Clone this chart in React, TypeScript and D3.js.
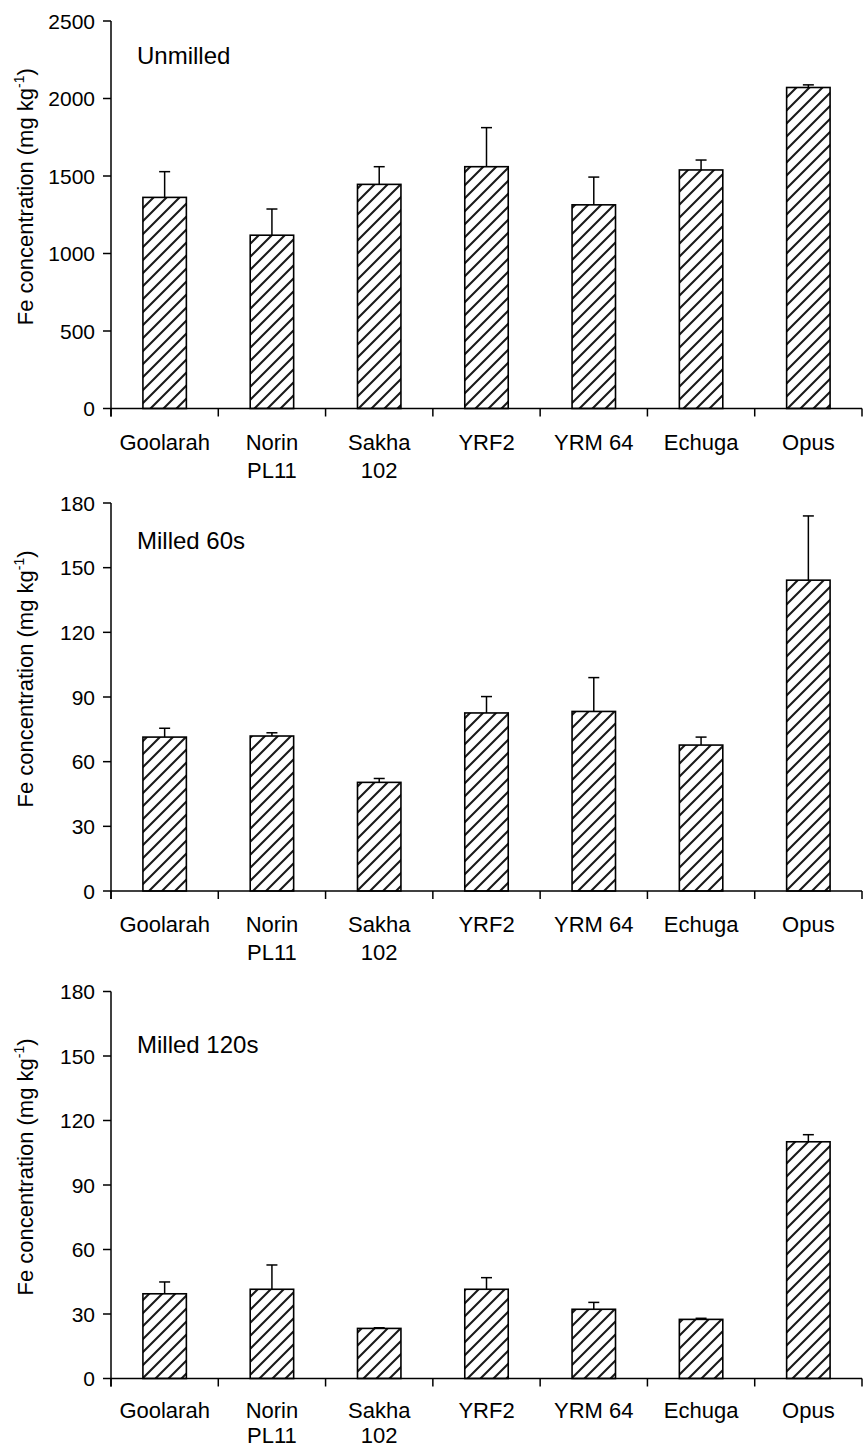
import React from "react";
import * as d3 from "d3";

const categories: string[][] = [
  ["Goolarah"],
  ["Norin", "PL11"],
  ["Sakha", "102"],
  ["YRF2"],
  ["YRM 64"],
  ["Echuga"],
  ["Opus"],
];

const unmilledMean = [1362, 1118, 1446, 1560, 1314, 1539, 2071];
const unmilledUpper = [1528, 1287, 1560, 1812, 1493, 1603, 2088];
const unmilledTicks = [0, 500, 1000, 1500, 2000, 2500];

const milled60Mean = [71.4, 71.9, 50.4, 82.6, 83.3, 67.7, 144.2];
const milled60Upper = [75.5, 73.4, 52.2, 90.2, 99.0, 71.4, 174];
const milled60Ticks = [0, 30, 60, 90, 120, 150, 180];

const milled120Mean = [39.4, 41.5, 23.3, 41.5, 32.2, 27.5, 110.1];
const milled120Upper = [44.9, 52.8, 23.6, 46.9, 35.4, 28.0, 113.4];
const milled120Ticks = [0, 30, 60, 90, 120, 150, 180];

const panelTitles = ["Unmilled", "Milled 60s", "Milled 120s"];

const FONT = "'Liberation Sans', Arial, Helvetica, sans-serif";

type PanelProps = {
  id: number;
  title: string;
  mean: number[];
  upper: number[];
  ticks: number[];
  yTop: number;
  yBottom: number;
  titleY: number;
  labelOffset: number;
  lineGap: number;
};

const X0 = 111;
const X1 = 862;

function Panel({ id, title, mean, upper, ticks, yTop, yBottom, titleY, labelOffset, lineGap }: PanelProps) {
  const maxV = ticks[ticks.length - 1];
  const y = d3.scaleLinear().domain([0, maxV]).range([yBottom, yTop]);
  const x = d3
    .scaleBand<number>()
    .domain(d3.range(categories.length))
    .range([X0, X1])
    .paddingInner(0.595)
    .paddingOuter(0.2975);
  const step = x.step();
  const bw = x.bandwidth();
  const boundaries = d3.range(categories.length + 1).map((i) => X0 + i * step);
  const cap = 5.5;
  const midY = (yTop + yBottom) / 2 - 18;
  const patId = `hatch${id}`;
  return (
    <g>
      <defs>
        <pattern id={patId} patternUnits="userSpaceOnUse" width={13} height={13}>
          <path
            d="M-2,15 L15,-2 M-2,2 L2,-2 M11,15 L15,11"
            stroke="#1a1a1a"
            strokeWidth={2.1}
            fill="none"
          />
        </pattern>
      </defs>
      <text
        transform={`translate(33,${midY}) rotate(-90)`}
        textAnchor="middle"
        fontFamily={FONT}
        fontSize={22}
        fill="#000"
      >
        Fe concentration (mg kg
        <tspan fontSize={14} dy={-9}>
          -1
        </tspan>
        <tspan dy={9}>)</tspan>
      </text>
      {mean.map((v, i) => {
        const bx = x(i)!;
        const cx = bx + bw / 2;
        return (
          <g key={i}>
            <line x1={cx} x2={cx} y1={y(v)} y2={y(upper[i])} stroke="#000" strokeWidth={1.5} />
            <line
              x1={cx - cap}
              x2={cx + cap}
              y1={y(upper[i])}
              y2={y(upper[i])}
              stroke="#000"
              strokeWidth={1.5}
            />
            <rect
              x={bx}
              y={y(v)}
              width={bw}
              height={y(0) - y(v)}
              fill={`url(#${patId})`}
              stroke="#000"
              strokeWidth={1.6}
            />
          </g>
        );
      })}
      <line x1={X0} x2={X0} y1={yTop} y2={yBottom + 8} stroke="#000" strokeWidth={1.5} />
      {ticks.map((t) => (
        <g key={t}>
          <line x1={X0 - 8} x2={X0} y1={y(t)} y2={y(t)} stroke="#000" strokeWidth={1.5} />
          <text
            x={95}
            y={y(t)}
            dy="0.36em"
            textAnchor="end"
            fontFamily={FONT}
            fontSize={21}
            fill="#000"
          >
            {t}
          </text>
        </g>
      ))}
      <line x1={X0} x2={X1} y1={yBottom} y2={yBottom} stroke="#000" strokeWidth={1.5} />
      {boundaries.map((bx, i) => (
        <line key={i} x1={bx} x2={bx} y1={yBottom} y2={yBottom + 8} stroke="#000" strokeWidth={1.5} />
      ))}
      {categories.map((lines, i) => (
        <text
          key={i}
          x={x(i)! + bw / 2}
          y={yBottom + labelOffset}
          textAnchor="middle"
          fontFamily={FONT}
          fontSize={22}
          fill="#000"
        >
          {lines.map((l, j) => (
            <tspan key={j} x={x(i)! + bw / 2} dy={j === 0 ? 0 : lineGap}>
              {l}
            </tspan>
          ))}
        </text>
      ))}
      <text x={137} y={titleY} fontFamily={FONT} fontSize={24} fill="#000">
        {title}
      </text>
    </g>
  );
}

export default function App() {
  return (
    <>
      <style>{`body{margin:0;}`}</style>
      <svg width={865} height={1447} style={{ display: "block", background: "#fff" }}>
        <rect width={865} height={1447} fill="#fff" />
        <Panel
          id={1}
          title={panelTitles[0]}
          mean={unmilledMean}
          upper={unmilledUpper}
          ticks={unmilledTicks}
          yTop={21}
          yBottom={408.5}
          titleY={64}
          labelOffset={41}
          lineGap={28}
        />
        <Panel
          id={2}
          title={panelTitles[1]}
          mean={milled60Mean}
          upper={milled60Upper}
          ticks={milled60Ticks}
          yTop={503}
          yBottom={891}
          titleY={549}
          labelOffset={41}
          lineGap={28}
        />
        <Panel
          id={3}
          title={panelTitles[2]}
          mean={milled120Mean}
          upper={milled120Upper}
          ticks={milled120Ticks}
          yTop={991.5}
          yBottom={1378.5}
          titleY={1053}
          labelOffset={39}
          lineGap={25}
        />
      </svg>
    </>
  );
}
